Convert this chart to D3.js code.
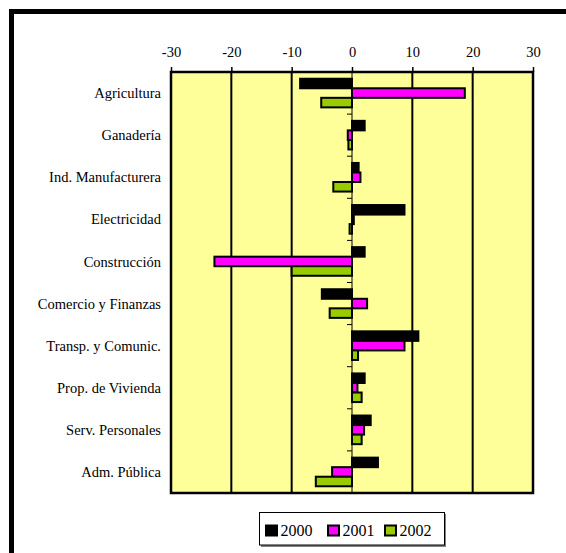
<!DOCTYPE html>
<html>
<head>
<meta charset="utf-8">
<script src="https://cdn.jsdelivr.net/npm/d3@7"></script>
<style>
  html, body { margin: 0; padding: 0; background: #fff; }
  svg { display: block; }
  svg text { font-family: "Liberation Serif", "Times New Roman", Times, "DejaVu Serif", serif; fill: #000; }
</style>
</head>
<body>
<svg id="chart" width="566" height="553"></svg>
<script>
// Sectors, top to bottom
const categories = [
  "Agricultura", "Ganadería", "Ind. Manufacturera", "Electricidad", "Construcción",
  "Comercio y Finanzas", "Transp. y Comunic.", "Prop. de Vivienda", "Serv. Personales", "Adm. Pública"
];
const years = ["2000", "2001", "2002"];
// Annual variation (%) per sector
const values2000 = [-8.6, 2.1, 1.1, 8.7, 2.1, -5.0, 11.0, 2.1, 3.1, 4.3];
const values2001 = [18.7, -0.7, 1.4, 0.3, -22.8, 2.5, 8.7, 0.9, 2.0, -3.3];
const values2002 = [-5.1, -0.6, -3.1, -0.4, -10.0, -3.7, 1.0, 1.6, 1.6, -6.0];
const xTicks = [-30, -20, -10, 0, 10, 20, 30];
const colors = ["#000000", "#FF00FF", "#99CC00"];

const serifFont = '"Liberation Serif", "Times New Roman", Times, "DejaVu Serif", serif';

const series = [values2000, values2001, values2002];
const rows = categories.map((c, i) => ({
  category: c,
  bars: years.map((yr, j) => ({ year: yr, value: series[j][i], color: colors[j] }))
}));

const svg = d3.select("#chart");

// Outer frame
svg.append("rect")
  .attr("x", 11.5).attr("y", 11.5)
  .attr("width", 600).attr("height", 600)
  .attr("fill", "#fff").attr("stroke", "#000").attr("stroke-width", 5);

const plotLeft = 171, plotRight = 533, plotTop = 72, plotBottom = 493;

const x = d3.scaleLinear().domain([-30, 30]).range([plotLeft, plotRight]);
const y = d3.scaleBand().domain(categories).range([plotTop, plotBottom])
  .paddingInner(0.32).paddingOuter(0.16);
const ySub = d3.scaleBand().domain(years).range([0, y.bandwidth()]);

// Plot background
svg.append("rect")
  .attr("x", plotLeft).attr("y", plotTop)
  .attr("width", plotRight - plotLeft).attr("height", plotBottom - plotTop)
  .attr("fill", "#FFFF99");

// Vertical gridlines
svg.append("g")
  .selectAll("line")
  .data(xTicks.filter(t => t !== 0 && t !== -30 && t !== 30))
  .join("line")
  .attr("x1", d => x(d)).attr("x2", d => x(d))
  .attr("y1", plotTop).attr("y2", plotBottom)
  .attr("stroke", "#000").attr("stroke-width", 2);

// Top value axis (plain hyphen for negatives)
const xAxis = d3.axisTop(x).tickValues(xTicks).tickSize(5).tickPadding(10)
  .tickFormat(d => String(d));
const gx = svg.append("g").attr("transform", `translate(0,${plotTop})`).call(xAxis);
gx.attr("font-family", null).attr("font-size", null);
gx.select(".domain").remove();
gx.selectAll(".tick line").attr("stroke", "#000").attr("stroke-width", 1.5);
gx.selectAll(".tick text")
  .style("font-family", serifFont)
  .style("font-size", "14.5px")
  .attr("fill", "#000");

// Bars
const groups = svg.append("g").selectAll("g")
  .data(rows)
  .join("g")
  .attr("transform", d => `translate(0,${y(d.category)})`);

groups.selectAll("rect")
  .data(d => d.bars)
  .join("rect")
  .attr("x", d => x(Math.min(0, d.value)))
  .attr("y", d => ySub(d.year))
  .attr("width", d => Math.abs(x(d.value) - x(0)))
  .attr("height", ySub.bandwidth())
  .attr("fill", d => d.color)
  .attr("stroke", "#000").attr("stroke-width", 2);

// Category axis on the zero line
const zeroX = x(0);
svg.append("line")
  .attr("x1", zeroX).attr("x2", zeroX)
  .attr("y1", plotTop).attr("y2", plotBottom)
  .attr("stroke", "#000").attr("stroke-width", 1);
const step = y.step();
svg.append("g")
  .selectAll("line")
  .data(d3.range(1, categories.length))
  .join("line")
  .attr("x1", zeroX - 5).attr("x2", zeroX)
  .attr("y1", i => plotTop + i * step).attr("y2", i => plotTop + i * step)
  .attr("stroke", "#000").attr("stroke-width", 1);

// Category labels
svg.append("g")
  .selectAll("text")
  .data(categories)
  .join("text")
  .attr("x", 161)
  .attr("y", d => y(d) + y.bandwidth() / 2)
  .attr("dy", "0.35em")
  .attr("text-anchor", "end")
  .style("font-family", serifFont)
  .style("font-size", "14.5px")
  .text(d => d);

// Plot border
svg.append("rect")
  .attr("x", plotLeft).attr("y", plotTop)
  .attr("width", plotRight - plotLeft).attr("height", plotBottom - plotTop)
  .attr("fill", "none").attr("stroke", "#000").attr("stroke-width", 2.5);

// Legend
const lg = svg.append("g");
lg.append("rect")
  .attr("x", 261).attr("y", 514).attr("width", 185).attr("height", 33)
  .attr("fill", "#808080");
lg.append("rect")
  .attr("x", 259.5).attr("y", 512.5).attr("width", 185).attr("height", 32.5)
  .attr("fill", "#fff").attr("stroke", "#000").attr("stroke-width", 1);
const legendX = [266, 328, 385];
const items = lg.selectAll("g.item")
  .data(years.map((yr, j) => ({ year: yr, color: colors[j], x: legendX[j] })))
  .join("g").attr("class", "item");
items.append("rect")
  .attr("x", d => d.x).attr("y", 525.5)
  .attr("width", 11).attr("height", 10)
  .attr("fill", d => d.color)
  .attr("stroke", "#000").attr("stroke-width", 2);
items.append("text")
  .attr("x", d => d.x + 14.5).attr("y", 536)
  .style("font-family", serifFont)
  .style("font-size", "16px")
  .text(d => d.year);
</script>
</body>
</html>
